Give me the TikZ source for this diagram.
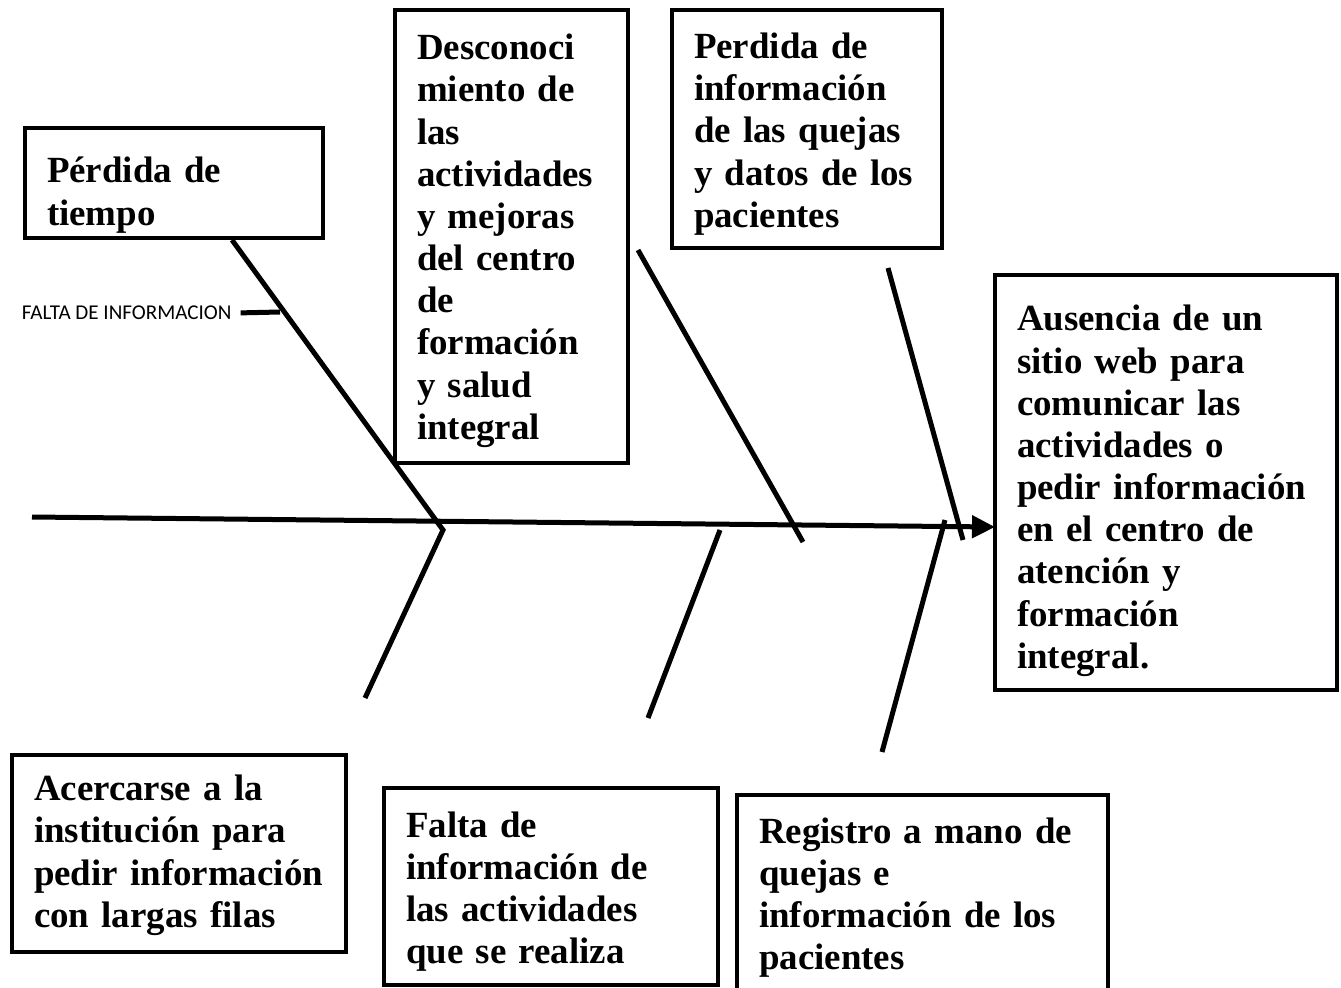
\documentclass[tikz,border=0pt]{standalone}
\usepackage{fontspec}
\setmainfont{Liberation Serif}
\newfontfamily\calibri{Carlito}
\usetikzlibrary{arrows.meta,positioning}
\definecolor{ink}{RGB}{0,0,0}
\tikzset{
  causa/.style={draw=ink,line width=0.08cm,fill=white,inner xsep=0.44cm,inner ysep=0pt,
    align=left,font=\fontsize{21}{24}\selectfont\bfseries},
  hueso/.style={line width=0.1cm,ink},
  espina/.style={line width=0.1cm,ink,-{Triangle[length=0.46cm,width=0.44cm]}},
  nota/.style={font=\calibri\fontsize{12}{14}\selectfont,anchor=west,inner sep=2pt},
}
\newcommand{\alto}[1]{\rule{0pt}{#1}}
\newcommand{\bajo}{\rule[-0.2cm]{0pt}{0.2cm}}

\begin{document}
\begin{tikzpicture}[x=0.02cm,y=-0.02cm]
  \useasboundingbox (0,0) rectangle (1341,987);

  \node[causa,text width=5.08cm,minimum height=2.2cm] (t1) at (174,183)
   {\alto{1.04cm}P\'erdida de\\tiempo\bajo};
  \node[causa,text width=3.78cm,minimum height=9.06cm] (t2) at (511.5,236.5)
   {\alto{0.72cm}Desconoci\\miento de\\las\\actividades\\y mejoras\\del centro\\de\\formaci\'on\\y salud\\integral\bajo};
  \node[causa,text width=4.52cm,minimum height=4.76cm] (t3) at (807,129)
   {\alto{0.76cm}Perdida de\\informaci\'on\\de las quejas\\y datos de los\\pacientes\bajo};
  \node[causa,text width=5.96cm,minimum height=8.3cm] (t4) at (1166,482.5)
   {\alto{0.88cm}Ausencia de un\\sitio web para\\comunicar las\\actividades o\\pedir informaci\'on\\en el centro de\\atenci\'on y\\formaci\'on\\integral.\bajo};
  \node[causa,text width=5.8cm,minimum height=3.94cm] (t5) at (179,853.5)
   {\alto{0.62cm}Acercarse a la\\instituci\'on para\\pedir informaci\'on\\con largas filas\bajo};
  \node[causa,text width=5.8cm,minimum height=3.94cm] (t6) at (551,886.5)
   {\alto{0.76cm}Falta de\\informaci\'on de\\las actividades\\que se realiza\bajo};
  \node[causa,text width=6.54cm,minimum height=4cm] (t7) at (922.5,895)
   {\alto{0.66cm}Registro a mano de\\quejas e\\informaci\'on de los\\pacientes\bajo};

  \coordinate (cola) at (32,517);
  \coordinate (cabeza) at (995,527);
  \draw[espina] (cola) -- (cabeza);

  \coordinate (a1) at (232,240);
  \coordinate (a2) at (443,530);
  \coordinate (a3) at (365,698);
  \draw[hueso] (a1) -- (a2) -- (a3);
  \coordinate (a4) at (280,312);
  \node[nota] (falta) at (18,313) {FALTA DE INFORMACION};
  \draw[hueso,shorten <=3pt] (falta.east) -- (a4);

  \coordinate (b1) at (638,250);
  \coordinate (b2) at (803,542);
  \draw[hueso] (b1) -- (b2);
  \coordinate (c1) at (888,268);
  \coordinate (c2) at (963,540);
  \draw[hueso] (c1) -- (c2);
  \coordinate (d1) at (720,530);
  \coordinate (d2) at (648,718);
  \draw[hueso] (d1) -- (d2);
  \coordinate (e1) at (945,520);
  \coordinate (e2) at (882,752);
  \draw[hueso] (e1) -- (e2);
\end{tikzpicture}
\end{document}
